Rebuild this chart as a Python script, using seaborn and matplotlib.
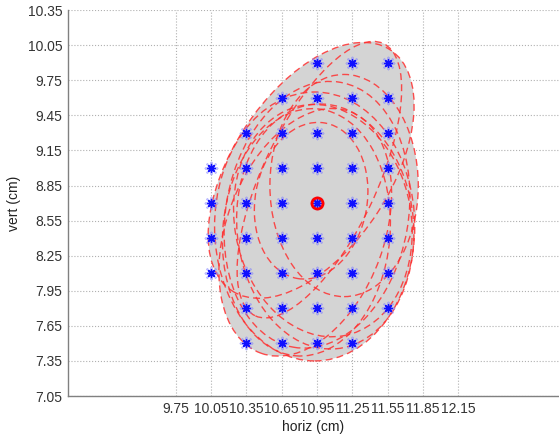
import numpy as np
import pandas as pd
import seaborn as sns
import matplotlib
matplotlib.use("Agg")
from matplotlib import pyplot as plt
from matplotlib.patches import Ellipse

# grid of probe positions (blue stars), one list of heights per column
col_x = [10.05, 10.35, 10.65, 10.95, 11.25, 11.55]
col_y = [
    [9.0, 8.7, 8.4, 8.1],
    [9.3, 9.0, 8.7, 8.4, 8.1, 7.8, 7.5],
    [9.6, 9.3, 9.0, 8.7, 8.4, 8.1, 7.8, 7.5],
    [9.9, 9.6, 9.3, 9.0, 8.7, 8.4, 8.1, 7.8, 7.5],
    [9.9, 9.6, 9.3, 9.0, 8.7, 8.4, 8.1, 7.8, 7.5],
    [9.9, 9.6, 9.3, 9.0, 8.7, 8.4, 8.1, 7.8],
]
center_x = 10.95
center_y = 8.7

# fitted ellipses (center, full width, full height, tilt in degrees)
ell_cx = [10.93, 10.85, 10.90, 10.97, 11.18, 10.86, 11.02, 10.90, 10.95, 11.00]
ell_cy = [8.50, 8.45, 8.98, 8.90, 8.85, 8.45, 8.50, 8.72, 8.60, 8.55]
ell_w = [1.70, 1.34, 1.34, 0.97, 1.26, 1.42, 1.50, 0.95, 1.55, 1.50]
ell_h = [2.30, 2.20, 2.46, 2.57, 1.90, 2.12, 2.10, 1.35, 2.30, 2.00]
ell_ang = [0, -20, -33, -25, 0, -5, 5, -10, -10, 10]

xticks = [9.75, 10.05, 10.35, 10.65, 10.95, 11.25, 11.55, 11.85, 12.15]
yticks = [7.05, 7.35, 7.65, 7.95, 8.25, 8.55, 8.85, 9.15, 9.45, 9.75, 10.05, 10.35]

pts = pd.DataFrame({
    "x": [x for x, ys in zip(col_x, col_y) for _ in ys],
    "y": [y for ys in col_y for y in ys],
})

sns.set_style("white")
plt.rcParams["font.family"] = ["Liberation Sans", "DejaVu Sans"]

fig = plt.figure(figsize=(5.59, 4.41), dpi=100)
ax = fig.add_axes([0.1216, 0.102, 0.8784, 0.875])

# gray union of all ellipses
for cx, cy, w, h, a in zip(ell_cx, ell_cy, ell_w, ell_h, ell_ang):
    ax.add_patch(Ellipse((cx, cy), w, h, angle=a, facecolor="#d4d4d4",
                         edgecolor="none", zorder=2))
for cx, cy, w, h, a in zip(ell_cx, ell_cy, ell_w, ell_h, ell_ang):
    ax.add_patch(Ellipse((cx, cy), w, h, angle=a, facecolor="none",
                         edgecolor="#ff3030", lw=1.0, ls=(0, (5, 3)),
                         alpha=0.85, zorder=3))

sns.scatterplot(data=pts, x="x", y="y", marker=(8, 2, 0), color="#8080ff",
                s=70, linewidth=1.5, alpha=0.5, zorder=4, ax=ax)
sns.scatterplot(data=pts, x="x", y="y", marker=(8, 2, 0), color="#1010ff",
                s=30, linewidth=1.0, zorder=4, ax=ax)
ax.plot(center_x, center_y, "o", ms=8, mfc="none", mec="red", mew=2, zorder=5)

ax.set_xlim(8.835, 13.005)
ax.set_ylim(7.05, 10.35)
ax.set_xticks(xticks)
ax.set_yticks(yticks)
ax.set_xticklabels([f"{t:.2f}" for t in xticks])
ax.set_yticklabels([f"{t:.2f}" for t in yticks])
ax.tick_params(direction="in", length=3, labelsize=10, colors="#333333",
               pad=4)
ax.grid(True, ls=":", color="#b0b0b0", lw=0.8, zorder=0)
ax.set_axisbelow(True)
for s in ["top", "right"]:
    ax.spines[s].set_visible(False)
for s in ["left", "bottom"]:
    ax.spines[s].set_color("#808080")
    ax.spines[s].set_linewidth(1.0)
ax.set_xlabel("horiz (cm)", fontsize=10, color="#222222", labelpad=3)
ax.set_ylabel("vert (cm)", fontsize=10, color="#222222", labelpad=5)

fig.savefig("out.png", dpi=100)
